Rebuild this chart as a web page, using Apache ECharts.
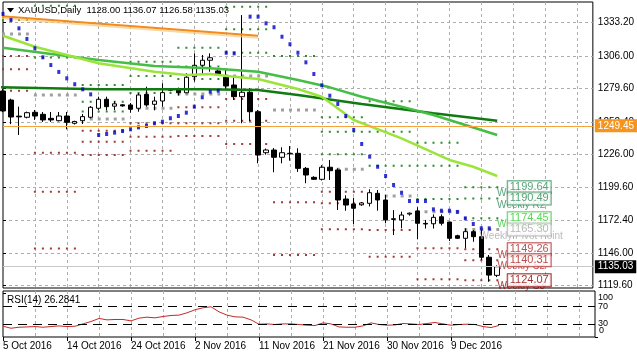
<!DOCTYPE html>
<html><head><meta charset="utf-8">
<script src="https://cdn.jsdelivr.net/npm/echarts@6/dist/echarts.min.js"></script>
<style>html,body{margin:0;padding:0;background:#fff}#c{width:637px;height:358px}</style>
</head><body><div id="c"></div>
<script>
const FONT = 'Liberation Sans';
const titleText = 'XAUUSD,Daily  1128.00 1136.07 1126.58 1135.03';

// bar dates (one bar per trading day, Sunday bars included)
const barDates = ['2016-10-05','2016-10-06','2016-10-07','2016-10-09','2016-10-10','2016-10-11','2016-10-12','2016-10-13','2016-10-14','2016-10-16',
'2016-10-17','2016-10-18','2016-10-19','2016-10-20','2016-10-21','2016-10-23','2016-10-24','2016-10-25','2016-10-26','2016-10-27',
'2016-10-28','2016-10-30','2016-10-31','2016-11-01','2016-11-02','2016-11-03','2016-11-04','2016-11-06','2016-11-07','2016-11-08',
'2016-11-09','2016-11-10','2016-11-11','2016-11-13','2016-11-14','2016-11-15','2016-11-16','2016-11-17','2016-11-18','2016-11-20',
'2016-11-21','2016-11-22','2016-11-23','2016-11-24','2016-11-25','2016-11-27','2016-11-28','2016-11-29','2016-11-30','2016-12-01',
'2016-12-02','2016-12-04','2016-12-05','2016-12-06','2016-12-07','2016-12-08','2016-12-09','2016-12-11','2016-12-12','2016-12-13',
'2016-12-14','2016-12-15','2016-12-16'];

const opens = [1277.7,1270.4,1257.3,1256.4,1260.4,1258.8,1255.5,1253.6,1257.4,1251.5,
1253.6,1256.4,1263.7,1271.0,1265.4,1266.5,1266.4,1263.7,1275.0,1266.9,
1269.6,1278.3,1279.1,1276.3,1289.3,1298.6,1302.7,1294.0,1288.9,1282.6,
1273.1,1276.7,1260.9,1227.6,1229.8,1223.9,1226.8,1227.1,1214.9,1207.6,
1206.0,1215.8,1213.6,1190.0,1186.0,1185.3,1186.5,1194.6,1189.2,1173.4,
1173.0,1177.8,1180.3,1170.2,1169.9,1175.6,1171.3,1160.2,1158.1,1163.5,
1159.4,1142.7,1128.00];
const highs = [1279.5,1271.5,1265.0,1261.0,1262.3,1260.7,1260.7,1260.7,1260.7,1253.5,
1259.0,1265.5,1273.1,1273.1,1269.4,1267.0,1268.0,1275.9,1281.2,1273.1,
1284.0,1279.5,1280.5,1292.1,1308.3,1307.0,1308.3,1296.0,1295.4,1289.9,
1339.4,1280.0,1262.3,1231.0,1231.4,1232.0,1233.0,1231.2,1216.0,1208.5,
1217.5,1221.7,1215.0,1193.0,1191.0,1187.5,1197.9,1197.3,1193.3,1181.0,
1179.7,1179.0,1183.3,1173.0,1177.5,1177.5,1171.6,1161.0,1166.2,1164.8,
1164.8,1144.5,1136.07];
const lows = [1260.5,1250.8,1242.0,1255.5,1254.2,1252.6,1252.6,1253.0,1246.6,1250.5,
1250.9,1255.5,1262.3,1262.0,1262.3,1265.0,1260.1,1260.9,1265.0,1262.0,
1265.0,1277.5,1274.0,1276.0,1285.3,1290.7,1293.4,1290.5,1278.5,1270.4,
1251.5,1253.0,1219.0,1226.0,1211.7,1219.0,1221.1,1212.0,1202.8,1205.5,
1205.0,1205.5,1181.1,1180.5,1169.7,1184.5,1184.0,1180.5,1170.3,1160.8,
1166.2,1176.5,1157.3,1166.0,1166.0,1168.5,1155.9,1157.5,1150.0,1155.3,
1140.5,1122.8,1126.58];
const closes = [1261.5,1256.6,1256.7,1260.1,1257.4,1254.2,1254.2,1257.4,1252.3,1253.0,
1256.9,1264.5,1271.0,1265.0,1267.3,1265.6,1262.9,1274.5,1266.4,1269.6,
1276.4,1278.9,1276.3,1288.9,1298.6,1302.7,1304.7,1291.5,1281.8,1273.1,
1276.7,1260.9,1225.7,1229.8,1223.9,1227.6,1227.1,1214.9,1209.5,1206.0,
1215.8,1213.0,1189.2,1185.1,1182.5,1186.8,1195.1,1189.2,1173.0,1174.0,
1177.0,1178.5,1170.3,1169.7,1175.1,1170.3,1158.1,1158.1,1163.5,1159.4,
1142.7,1128.2,1135.03];

// Parabolic SAR (null = no dot)
const sar = [1340.3,1335.4,1328.6,1320.0,1312.4,1305.1,1298.8,1293.2,1288.0,1283.2,
1279.1,1275.0,1242.0,1242.8,1243.9,1245.2,1246.6,1248.2,1249.3,1251.5,
1252.8,1255.6,1257.4,1260.1,1265.0,1272.6,1277.2,1278.0,1308.8,1308.3,
null,1338.1,1338.1,1332.7,1329.5,1321.8,1315.7,1308.8,1301.0,1291.5,
1282.4,1273.9,1267.2,1257.4,1246.1,1234.7,1224.4,1216.2,1208.7,1201.4,
1195.1,1188.4,1188.4,1188.4,1181.6,1180.5,1180.5,1179.5,1174.3,1169.7,
1166.2,1166.2,null];

// RSI(14)
const rsi = [24.6,20.0,22.3,23.0,23.8,22.3,23.8,25.3,23.8,24.6,
29.9,35.4,42.3,39.1,40.0,40.0,36.8,43.0,45.3,43.7,
46.8,49.1,49.9,55.2,62.1,66.7,69.0,57.5,49.9,46.0,
45.3,39.1,29.2,29.9,28.5,29.9,29.9,28.5,26.9,26.2,
32.2,29.9,23.0,22.3,22.3,25.3,32.2,28.5,26.9,27.6,
30.8,29.9,28.5,30.8,33.1,29.9,26.9,28.5,29.2,28.5,
23.8,21.6,26.28];
const rsiLast = 26.2841;
const rsiLevels = [70, 30];

// moving averages / trend line: [bar index, price]
const trendOrange = [[-0.5,1338.6],[32,1322.6]];
const maLight = [[0,1322.6],[4,1313.7],[8,1307.0],[12,1300.2],[19,1293.4],[23,1290.7],[26,1291.5],[29,1289.3],[32,1287.5],[37,1279.3],[40,1273.1],[44,1254.2],[50,1239.3],[56,1221.7],[59,1216.2],[62,1208.7]];
const maMid = [[0,1312.9],[8,1306.1],[12,1302.9],[19,1298.0],[26,1296.2],[32,1293.4],[37,1286.7],[41,1280.7],[45,1273.1],[50,1265.0],[54,1258.2],[58,1250.1],[62,1242.0]];
const maDark = [[-0.5,1280.7],[12,1279.1],[25,1279.1],[32,1278.5],[37,1274.5],[45,1267.2],[54,1259.6],[62,1253.6]];

// weekly pivot levels, one entry per week span
const weekSpans = [[0,3],[4,9],[10,15],[16,21],[22,27],[28,33],[34,39],[40,45],[46,51],[52,57],[58,62]];
const R3 = [null,null,1282.6,1301.5,1312.9,1346.2,null,1256.4,1269.3,1235.7,1199.64];
const R2 = [null,1347.0,1269.0,1289.9,1297.7,1327.8,null,1244.7,1244.7,1217.1,1190.49];
const R1 = [1335.4,1305.0,1261.0,1276.1,1287.5,1308.8,1306.1,1226.3,1217.1,1190.0,1174.45];
const PP = [1324.0,1274.5,1255.0,1263.7,1275.3,1289.9,1262.3,1214.1,1192.45,1179.7,1165.30];
const S1 = [1306.1,1227.5,1245.5,1251.5,1264.5,1271.2,1187.3,1195.9,1164.9,1150.0,1149.26];
const S2 = [1295.3,1195.9,1236.6,1240.6,1251.5,1253.6,1144.5,1186.5,1143.2,null,1140.31];
const S3 = [1278.0,1149.9,1225.7,1229.2,1241.2,1234.7,null,1165.4,null,1124.8,1124.07];

const lvlNames = ['Weekly R3','Weekly R2','Weekly R1','Weekly Pivot Point','Weekly S1','Weekly S2','Weekly S3'];
const lvlColors = ['#2E8B57','#2E8B57','#32CD32','#A9A9A9','#A52A2A','#B22222','#8B0000'];

const priceTicks = [1119.6,1146.0,1172.4,1199.6,1226.0,1252.4,1279.6,1306.0,1333.2];
const rsiMidTicks = [30,70];
const rsiTopTick = [100];
const rsiBottomTick = [0];
const dateLabelIdx = [0,8,16,24,32,40,48,56];
const dateLabels = ['5 Oct 2016','14 Oct 2016','24 Oct 2016','2 Nov 2016','11 Nov 2016','21 Nov 2016','30 Nov 2016','9 Dec 2016'];
const hLine = 1249.45;
const bid = closes[closes.length-1];

const candleData = barDates.map((d,i)=>[i, opens[i], closes[i], lows[i], highs[i]]);
const sarData = sar.map((v,i)=> v==null ? null : [i, v]).filter(Boolean);
const rsiData = rsi.map((v,i)=>[i, v]);

function levelSeries(levels, color, width, dash) {
  const data = [];
  weekSpans.forEach((sp, i) => {
    const v = levels[i];
    if (v == null) return;
    data.push([sp[0]-0.125, v], [sp[1]+0.25, v], [sp[1]+0.25, '-']);
  });
  return {type:'line', xAxisIndex:0, yAxisIndex:0, data, symbol:'none', silent:true, z:1,
    connectNulls:false, lineStyle:{color, width, type:dash, cap:'butt'}};
}

function rsiAxis(ticks, vAlign, showLabel) {
  return {type:'value', gridIndex:1, position:'right', min:0, max:105, axisLine:{show:false},
    axisTick:{show:true, customValues:ticks, length:3, lineStyle:{color:'#000'}},
    axisLabel:{show:showLabel, customValues:ticks, margin:3, fontSize:9, color:'#000', fontFamily:FONT,
      hideOverlap:false, showMinLabel:true, showMaxLabel:true, verticalAlign:vAlign},
    splitLine:{show:false}};
}

const last = weekSpans.length-1;
const lastLevels = [R3[last],R2[last],R1[last],PP[last],S1[last],S2[last],S3[last]];

const gridLine = {show:true, showMinLine:false, showMaxLine:false, lineStyle:{color:'#ADADAD', type:[3,3], width:1}};

const option = {
  animation:false,
  backgroundColor:'#fff',
  textStyle:{fontFamily:FONT},
  grid:[
    {left:3, top:2, width:592, height:286, show:true, borderColor:'#000', borderWidth:1, backgroundColor:'#fff'},
    {left:3, top:291, width:592, height:46, show:true, borderColor:'#000', borderWidth:1, backgroundColor:'#fff'}
  ],
  xAxis:[
    {type:'value', gridIndex:0, min:0, max:74, interval:4, axisLine:{show:false}, axisTick:{show:false}, axisLabel:{show:false}, splitLine:gridLine},
    {type:'value', gridIndex:1, min:0, max:74, interval:4, axisLine:{show:false}, axisTick:{show:false}, axisLabel:{show:false}, splitLine:gridLine},
    {type:'value', gridIndex:1, min:0, max:74, position:'bottom', axisLine:{show:false},
      axisTick:{show:true, customValues:dateLabelIdx, length:4, lineStyle:{color:'#000'}},
      axisLabel:{show:true, customValues:dateLabelIdx, align:'left', margin:4, fontSize:10, color:'#000', fontFamily:FONT, hideOverlap:false,
        formatter:(v)=>dateLabels[dateLabelIdx.indexOf(Math.round(v))]},
      splitLine:{show:false}}
  ],
  yAxis:[
    {type:'value', gridIndex:0, position:'right', min:1117.73, max:1350.0, axisLine:{show:false},
      axisTick:{show:true, customValues:priceTicks, length:3, lineStyle:{color:'#000'}},
      axisLabel:{show:true, customValues:priceTicks, formatter:(v)=>v.toFixed(2), margin:5, fontSize:10, color:'#000', fontFamily:FONT, hideOverlap:false},
      splitLine:{show:true, lineStyle:{color:'#ADADAD', type:[3,3], width:1}}},
    rsiAxis(rsiMidTicks, 'middle', true),
    rsiAxis(rsiTopTick, 'top', true),
    rsiAxis(rsiBottomTick, 'bottom', false)
  ],
  graphic:[
    {type:'polygon', shape:{points:[[7,8],[14,8],[10.5,12.5]]}, style:{fill:'#000'}, z:100},
    {type:'text', left:18, top:5, style:{text:titleText, font:'9.5px "Liberation Sans"', fill:'#000'}, z:100},
    {type:'text', left:7, top:295, style:{text:'RSI(14) '+rsiLast.toFixed(4), font:'10px "Liberation Sans"', fill:'#000'}, z:100},
    {type:'text', left:599, top:326, style:{text:String(rsiBottomTick[0]), font:'9px "Liberation Sans"', fill:'#000'}, z:100}
  ],
  series:[
    levelSeries(R3,'#2E8B2E',2,[2,6]),
    levelSeries(R2,'#2E8B2E',2,[2,6]),
    levelSeries(R1,'#2E8B2E',2,[2,6]),
    levelSeries(PP,'#A0A0A0',3,[3,5]),
    levelSeries(S1,'#A03A3A',2,[2,6]),
    levelSeries(S2,'#A03A3A',2,[2,6]),
    levelSeries(S3,'#A03A3A',2,[2,6]),
    {type:'candlestick', xAxisIndex:0, yAxisIndex:0, data:candleData, encode:{x:0, y:[1,2,3,4]}, barWidth:5, z:2,
      itemStyle:{color:'#fff', color0:'#000', borderColor:'#000', borderColor0:'#000', borderWidth:1},
      markLine:{silent:true, symbol:'none', animation:false,
        data:[
          {yAxis:hLine, lineStyle:{color:'#F4A43A', type:'solid', width:1},
            label:{show:true, position:'end', distance:2, formatter:hLine.toFixed(2), color:'#fff', backgroundColor:'#F7941D', padding:[2,3,1,3], fontSize:10, fontFamily:FONT}},
          {yAxis:bid, lineStyle:{color:'#C8C8C8', type:'solid', width:1},
            label:{show:true, position:'end', distance:2, formatter:bid.toFixed(2), color:'#fff', backgroundColor:'#000', padding:[2,3,1,3], fontSize:10, fontFamily:FONT}}
        ]}},
    {type:'line', xAxisIndex:0, yAxisIndex:0, data:trendOrange, symbol:'none', z:3, silent:true,
      lineStyle:{color:'#F28A1E', width:2, shadowColor:'rgba(250,200,120,0.7)', shadowOffsetY:2, shadowBlur:0}},
    {type:'line', xAxisIndex:0, yAxisIndex:0, data:maDark, symbol:'none', z:3, silent:true, lineStyle:{color:'#117A11', width:2.5}},
    {type:'line', xAxisIndex:0, yAxisIndex:0, data:maMid, symbol:'none', z:3, silent:true, lineStyle:{color:'#45BE45', width:2.5}},
    {type:'line', xAxisIndex:0, yAxisIndex:0, data:maLight, symbol:'none', z:3, silent:true, lineStyle:{color:'#9BE53A', width:2.5}},
    {type:'scatter', xAxisIndex:0, yAxisIndex:0, data:sarData, symbol:'rect', symbolSize:[3,4], z:4, silent:true, itemStyle:{color:'#0000C8'}},
    {type:'scatter', xAxisIndex:0, yAxisIndex:0, z:5, silent:true, symbolSize:1, itemStyle:{color:'transparent'},
      data:lastLevels.map((v,i)=>({value:[62, v], label:{color:lvlColors[i]}})),
      label:{show:true, position:'inside', offset:[24,6.5], fontSize:10, fontFamily:FONT,
        formatter:(p)=>lvlNames[p.dataIndex]}},
    {type:'scatter', xAxisIndex:0, yAxisIndex:0, z:6, silent:true, symbolSize:1, itemStyle:{color:'transparent'},
      data:lastLevels.map((v,i)=>({value:[62, v], label:{color:lvlColors[i], borderColor:lvlColors[i]}})),
      label:{show:true, position:'inside', offset:[32,0], fontSize:11, fontFamily:FONT, backgroundColor:'#fff', borderWidth:1, padding:[1,2,0,2], lineHeight:11,
        formatter:(p)=>p.value[1].toFixed(2)}},
    {type:'line', xAxisIndex:1, yAxisIndex:1, data:rsiData, symbol:'none', silent:true, z:3, lineStyle:{color:'#C62828', width:1},
      markLine:{silent:true, symbol:'none', label:{show:false}, lineStyle:{color:'#000', type:[9,6], width:1},
        data:rsiLevels.map(v=>({yAxis:v}))}}
  ]
};
const chart = echarts.init(document.getElementById('c'), null, {renderer:'canvas'});
chart.setOption(option);
</script></body></html>
